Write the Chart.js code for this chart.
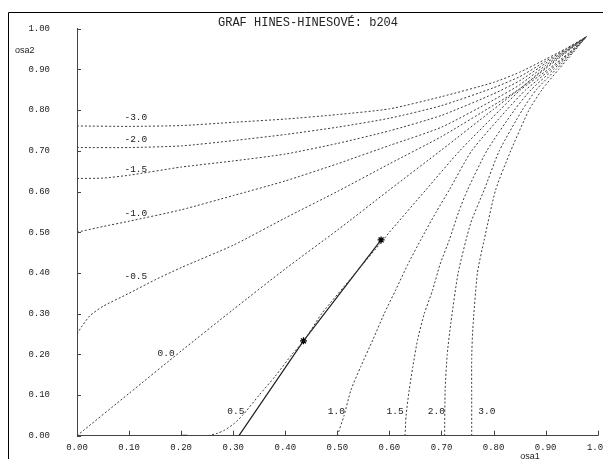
<!DOCTYPE html>
<html>
<head>
<meta charset="utf-8">
<script src="https://cdn.jsdelivr.net/npm/chart.js@4/dist/chart.umd.min.js"></script>
<style>
  html, body { margin: 0; padding: 0; background: #fff; }
  #wrap { width: 603px; height: 459px; position: relative; }
</style>
</head>
<body>
<div id="wrap"><canvas id="c" width="603" height="459"></canvas></div>
<script>
// Isolines of the Hines–Hines graph, one x/y pair of arrays per level
const levelNames = ['-3.0', '-2.0', '-1.5', '-1.0', '-0.5', '0.0', '0.5', '1.0', '1.5', '2.0', '3.0'];

const levM30x = [0, 0.10, 0.20, 0.30, 0.40, 0.50, 0.60, 0.70, 0.80, 0.85, 0.90, 0.94, 0.978];
const levM30y = [0.761, 0.760, 0.762, 0.770, 0.778, 0.789, 0.803, 0.833, 0.868, 0.893, 0.925, 0.952, 0.980];

const levM20x = [0, 0.10, 0.20, 0.30, 0.40, 0.50, 0.60, 0.70, 0.80, 0.85, 0.90, 0.94, 0.978];
const levM20y = [0.708, 0.708, 0.712, 0.725, 0.740, 0.758, 0.780, 0.811, 0.855, 0.882, 0.920, 0.950, 0.980];

const levM15x = [0, 0.05, 0.10, 0.20, 0.30, 0.40, 0.50, 0.60, 0.70, 0.80, 0.85, 0.90, 0.94, 0.978];
const levM15y = [0.632, 0.633, 0.640, 0.660, 0.675, 0.692, 0.718, 0.749, 0.787, 0.840, 0.872, 0.915, 0.948, 0.980];

const levM10x = [0, 0.05, 0.10, 0.20, 0.30, 0.40, 0.50, 0.60, 0.70, 0.80, 0.85, 0.90, 0.94, 0.978];
const levM10y = [0.500, 0.514, 0.527, 0.555, 0.590, 0.626, 0.668, 0.713, 0.758, 0.825, 0.862, 0.910, 0.946, 0.980];

const levM05x = [0, 0.01, 0.025, 0.05, 0.10, 0.15, 0.20, 0.30, 0.40, 0.50, 0.60, 0.70, 0.80, 0.85, 0.90, 0.94, 0.978];
const levM05y = [0.250, 0.270, 0.295, 0.318, 0.350, 0.383, 0.413, 0.468, 0.535, 0.600, 0.668, 0.735, 0.812, 0.852, 0.905, 0.944, 0.980];

const lev00x = [0, 0.10, 0.20, 0.30, 0.40, 0.50, 0.60, 0.70, 0.80, 0.90, 0.978];
const lev00y = [0, 0.104, 0.208, 0.310, 0.410, 0.505, 0.604, 0.702, 0.802, 0.902, 0.980];

const lev05x = [0.252, 0.270, 0.284, 0.300, 0.318, 0.350, 0.380, 0.413, 0.437, 0.470, 0.535, 0.588, 0.600, 0.670, 0.735, 0.812, 0.852, 0.905, 0.944, 0.978];
const lev05y = [0, 0.006, 0.014, 0.028, 0.050, 0.100, 0.145, 0.200, 0.235, 0.300, 0.400, 0.481, 0.500, 0.604, 0.700, 0.800, 0.850, 0.900, 0.940, 0.980];

const lev10x = [0.500, 0.513, 0.526, 0.545, 0.568, 0.590, 0.612, 0.635, 0.660, 0.690, 0.715, 0.758, 0.825, 0.862, 0.910, 0.946, 0.978];
const lev10y = [0, 0.050, 0.112, 0.170, 0.235, 0.300, 0.358, 0.420, 0.481, 0.550, 0.604, 0.700, 0.800, 0.850, 0.900, 0.940, 0.980];

const lev15x = [0.630, 0.632, 0.638, 0.645, 0.654, 0.667, 0.683, 0.697, 0.715, 0.733, 0.750, 0.787, 0.840, 0.872, 0.915, 0.948, 0.978];
const lev15y = [0, 0.050, 0.112, 0.170, 0.235, 0.300, 0.358, 0.420, 0.481, 0.550, 0.604, 0.700, 0.800, 0.850, 0.900, 0.940, 0.980];

const lev20x = [0.706, 0.707, 0.711, 0.718, 0.732, 0.756, 0.782, 0.811, 0.855, 0.882, 0.920, 0.950, 0.978];
const lev20y = [0, 0.112, 0.200, 0.277, 0.400, 0.522, 0.604, 0.700, 0.800, 0.850, 0.900, 0.940, 0.980];

const lev30x = [0.758, 0.758, 0.758, 0.760, 0.769, 0.782, 0.804, 0.833, 0.868, 0.893, 0.925, 0.952, 0.978];
const lev30y = [0, 0.100, 0.190, 0.260, 0.400, 0.481, 0.604, 0.700, 0.800, 0.850, 0.900, 0.940, 0.980];

// Where each level's caption sits, in axis units
const captionX = [0.113, 0.113, 0.113, 0.113, 0.113, 0.171, 0.305, 0.498, 0.611, 0.690, 0.787];
const captionY = [0.781, 0.729, 0.653, 0.545, 0.390, 0.203, 0.060, 0.060, 0.060, 0.060, 0.060];

// Measured path of sample b204 and its two marked points
const pathX = [0.311, 0.435, 0.584];
const pathY = [0, 0.233, 0.481];
const pathStars = [false, true, true];

// Short mark on the horizontal axis
const markX = [0.200, 0.212];
const markY = [0, 0];

// Axis ticks
const tickValues = [0, 0.1, 0.2, 0.3, 0.4, 0.5, 0.6, 0.7, 0.8, 0.9, 1.0];

const titleText = 'GRAF HINES-HINESOVÉ: b204';
const xAxisName = 'osa1';
const yAxisName = 'osa2';

const levelXs = [levM30x, levM20x, levM15x, levM10x, levM05x, lev00x, lev05x, lev10x, lev15x, lev20x, lev30x];
const levelYs = [levM30y, levM20y, levM15y, levM10y, levM05y, lev00y, lev05y, lev10y, lev15y, lev20y, lev30y];

const zip = (xs, ys) => xs.map((x, i) => ({ x: x, y: ys[i] }));

const datasets = levelNames.map((name, i) => ({
  label: name,
  data: zip(levelXs[i], levelYs[i]),
  showLine: true,
  borderColor: '#3c3c3c',
  borderWidth: 1,
  borderDash: [2, 2],
  pointRadius: 0,
  tension: 0.2
}));

datasets.push({
  label: 'b204',
  data: zip(pathX, pathY),
  showLine: true,
  borderColor: '#222',
  borderWidth: 1.2,
  pointStyle: 'star',
  pointRadius: pathStars.map(s => s ? 3.5 : 0),
  pointBorderColor: '#000',
  pointBorderWidth: 1.3,
  tension: 0
});

datasets.push({
  label: 'mark',
  data: zip(markX, markY),
  showLine: true,
  borderColor: '#333',
  borderWidth: 2,
  pointRadius: 0,
  tension: 0
});

const MONO = '"Liberation Mono", "DejaVu Sans Mono", monospace';

const decorations = {
  id: 'decorations',
  beforeDraw(chart) {
    const ctx = chart.ctx;
    ctx.save();
    ctx.fillStyle = '#fff';
    ctx.fillRect(0, 0, chart.width, chart.height);
    // window frame
    ctx.strokeStyle = '#000';
    ctx.lineWidth = 1;
    ctx.beginPath();
    ctx.moveTo(8.5, chart.height);
    ctx.lineTo(8.5, 12.5);
    ctx.lineTo(chart.width, 12.5);
    ctx.stroke();
    ctx.restore();
  },
  afterDraw(chart) {
    const ctx = chart.ctx;
    const xs = chart.scales.x, ys = chart.scales.y;
    const x0 = xs.getPixelForValue(0), y0 = ys.getPixelForValue(0);
    ctx.save();
    // inner tick marks
    ctx.strokeStyle = '#444';
    ctx.lineWidth = 1;
    ctx.beginPath();
    tickValues.forEach(v => {
      const px = Math.round(xs.getPixelForValue(v)) + 0.5;
      ctx.moveTo(px, y0);
      ctx.lineTo(px, y0 - 5);
      const py = Math.round(ys.getPixelForValue(v)) + 0.5;
      ctx.moveTo(x0, py);
      ctx.lineTo(x0 + 4, py);
    });
    ctx.stroke();
    // level captions
    ctx.fillStyle = '#222';
    ctx.font = '9.5px ' + MONO;
    ctx.textAlign = 'center';
    ctx.textBaseline = 'middle';
    levelNames.forEach((name, i) => {
      ctx.fillText(name, xs.getPixelForValue(captionX[i]), ys.getPixelForValue(captionY[i]));
    });
    // title
    ctx.font = '12px ' + MONO;
    ctx.fillStyle = '#222';
    ctx.fillText(titleText, 308, 23);
    // axis names
    ctx.font = '9px "Liberation Sans", Arial, sans-serif';
    ctx.textAlign = 'left';
    ctx.fillText(yAxisName, 15, 51);
    ctx.textAlign = 'center';
    ctx.textBaseline = 'top';
    ctx.fillText(xAxisName, 530, 452);
    ctx.restore();
  }
};

new Chart(document.getElementById('c'), {
  type: 'scatter',
  data: { datasets: datasets },
  options: {
    responsive: false,
    animation: false,
    devicePixelRatio: 1,
    layout: { padding: { top: 28.7, right: 4, left: 0, bottom: 0 } },
    plugins: { legend: { display: false }, tooltip: { enabled: false }, title: { display: false } },
    scales: {
      x: {
        type: 'linear', min: 0, max: 1,
        afterBuildTicks(scale) { scale.ticks = tickValues.map(v => ({ value: v })); },
        ticks: {
          callback: v => v.toFixed(2),
          font: { family: MONO, size: 9 },
          color: '#222',
          padding: 7,
          maxRotation: 0,
          autoSkip: false
        },
        grid: { display: false, drawTicks: false },
        border: { display: true, color: '#444', width: 1 },
        afterFit(scale) { scale.height = 23.3; scale.paddingLeft = 0; scale.paddingRight = 0; }
      },
      y: {
        type: 'linear', min: 0, max: 1,
        afterBuildTicks(scale) { scale.ticks = tickValues.map(v => ({ value: v })); },
        ticks: {
          callback: v => v.toFixed(2),
          font: { family: MONO, size: 9 },
          color: '#222',
          padding: 27,
          autoSkip: false
        },
        grid: { display: false, drawTicks: false },
        border: { display: true, color: '#444', width: 1 },
        afterFit(scale) { scale.width = 77; scale.paddingTop = 0; scale.paddingBottom = 0; }
      }
    }
  },
  plugins: [decorations]
});
</script>
</body>
</html>
